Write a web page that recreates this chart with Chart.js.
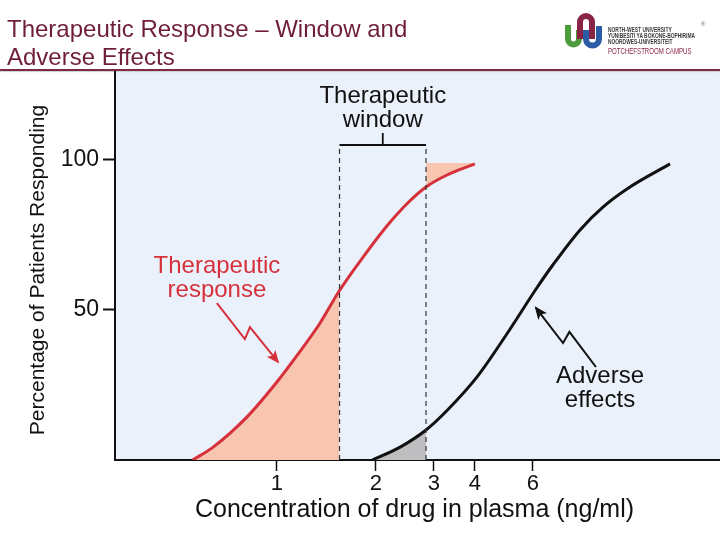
<!DOCTYPE html>
<html>
<head>
<meta charset="utf-8">
<script src="https://cdn.jsdelivr.net/npm/chart.js@4.4.1/dist/chart.umd.min.js"></script>
<style>
  html, body { margin: 0; padding: 0; background: #fff; }
  #wrap { position: relative; width: 720px; height: 540px; overflow: hidden; font-family: 'Liberation Sans', Arial, sans-serif; }
  #chart { position: absolute; left: 0; top: 0; }
  #title { position: absolute; left: 7px; top: 15px; font-size: 24px; line-height: 28px; color: #6e1d3b; }
  #rule { position: absolute; left: 0; top: 69px; width: 720px; height: 2px; background: #7b2b47; box-shadow: 0 1px 1px rgba(0,0,0,0.2); }
  #logo { position: absolute; left: 563px; top: 12px; width: 157px; height: 52px; }
  #logo svg { position: absolute; left: 0; top: 0; }
  #logo .txt { position: absolute; left: 45px; top: 15px; font-family: 'Liberation Sans', Arial, sans-serif; font-size: 7.5px; line-height: 6px; font-weight: bold; color: #3a3a3a; white-space: nowrap; transform: scaleX(0.65); transform-origin: 0 0; }
  #logo .camp { display: inline-block; margin-top: 2px; font-weight: normal; color: #8a2446; font-size: 9px; line-height: 9px; transform: scaleX(1.04); transform-origin: 0 0; }
  #logo .reg { position: absolute; left: 138px; top: 9px; font-size: 6px; color: #666; }
</style>
</head>
<body>
<div id="wrap">
  <canvas id="chart" width="720" height="540"></canvas>
  <div id="title">Therapeutic Response – Window and<br>Adverse Effects</div>
  <div id="rule"></div>
  <div id="logo">
    <svg width="42" height="40" viewBox="0 0 42 40">
      <path d="M5 13 V27 A5.5 5.5 0 0 0 16 27 V18" fill="none" stroke="#4c9b3d" stroke-width="6"/>
      <path d="M23 18 V27 A6.5 6.5 0 0 0 36 27 V14" fill="none" stroke="#2c5ba6" stroke-width="6"/>
      <path d="M17 27 V10 A6 6 0 0 1 29 10 V27" fill="none" stroke="#8a2446" stroke-width="6"/>
    </svg>
    <div class="txt">NORTH-WEST UNIVERSITY<br>YUNIBESITI YA BOKONE-BOPHIRIMA<br>NOORDWES-UNIVERSITEIT<br><span class="camp">POTCHEFSTROOM CAMPUS</span></div>
    <div class="reg">®</div>
  </div>
</div>
<script>
// curves (concentration ng/ml, % responding)
const responseConc = [0.555, 0.64, 0.81, 1.0, 1.15, 1.35, 1.55, 1.83, 2.16, 2.49, 2.84, 3.29, 4.0];
const responsePct  = [0, 4.3, 14.3, 26, 34.8, 45.5, 56.5, 67.7, 78, 85.5, 91, 95, 98.7];
const adverseConc  = [1.95, 2.37, 2.84, 3.29, 4.06, 5.0, 6.18, 6.9, 8.35, 9.8, 11.84, 15.67];
const adversePct   = [0, 4.3, 10, 16.5, 27.7, 42, 57.5, 65, 76.7, 84.3, 91, 98.7];

const windowRange = [1.55, 2.84];
const windowTop = 105;
const fillCap = 99;

const xTicks = [1, 2, 3, 4, 6];
const yTicks = [50, 100];

const RED = '#d6303b';
const SALMON = '#f8c5b1';
const GREY = '#bebec0';
const NONE = 'rgba(0,0,0,0)';

function pts(xs, ys) {
  return xs.map((x, i) => ({ x: x, y: ys[i] }));
}
const response = pts(responseConc, responsePct);
const adverse = pts(adverseConc, adversePct);

const lineOpts = { pointRadius: 0, cubicInterpolationMode: 'monotone', fill: false };
const fillOpts = { pointRadius: 0, cubicInterpolationMode: 'monotone', borderColor: NONE, borderWidth: 0 };

// fill only the segments inside a concentration range, same curve shape as the line
function shadeBetween(lo, hi, color) {
  return { backgroundColor: c => (c.p0.parsed.x >= lo && c.p1.parsed.x <= hi ? color : NONE) };
}

function arrow(ctx, sx, sy, path, color) {
  const p = path.map(a => [sx.getPixelForValue(a[0]), sy.getPixelForValue(a[1])]);
  ctx.save();
  ctx.strokeStyle = color;
  ctx.fillStyle = color;
  ctx.lineWidth = 2;
  ctx.beginPath();
  ctx.moveTo(p[0][0], p[0][1]);
  for (let i = 1; i < p.length; i++) ctx.lineTo(p[i][0], p[i][1]);
  ctx.stroke();
  // head
  const a = p[p.length - 2], b = p[p.length - 1];
  const ang = Math.atan2(b[1] - a[1], b[0] - a[0]);
  ctx.translate(b[0], b[1]);
  ctx.rotate(ang);
  ctx.beginPath();
  ctx.moveTo(2, 0);
  ctx.lineTo(-11, -5.5);
  ctx.lineTo(-8, 0);
  ctx.lineTo(-11, 5.5);
  ctx.closePath();
  ctx.fill();
  ctx.restore();
}

const decorations = {
  id: 'decorations',
  beforeDraw(chart) {
    const { ctx, chartArea: c } = chart;
    ctx.save();
    ctx.fillStyle = '#eaf1fa';
    ctx.fillRect(c.left, c.top, c.right - c.left, c.bottom - c.top);
    ctx.restore();
  },
  afterDraw(chart) {
    const { ctx, chartArea: c } = chart;
    const sx = chart.scales.x, sy = chart.scales.y;
    const x0 = sx.getPixelForValue(windowRange[0]);
    const x1 = sx.getPixelForValue(windowRange[1]);
    const yt = sy.getPixelForValue(windowTop);
    const yb = sy.getPixelForValue(0);

    ctx.save();
    // therapeutic window box
    ctx.strokeStyle = '#333';
    ctx.lineWidth = 1.2;
    ctx.setLineDash([5, 4]);
    ctx.beginPath();
    ctx.moveTo(x0, yb); ctx.lineTo(x0, yt);
    ctx.moveTo(x1, yb); ctx.lineTo(x1, yt);
    ctx.stroke();
    ctx.setLineDash([]);
    ctx.strokeStyle = '#111';
    ctx.lineWidth = 1.8;
    const xm = (x0 + x1) / 2;
    ctx.beginPath();
    ctx.moveTo(x0, yt); ctx.lineTo(x1, yt);
    ctx.moveTo(xm, yt); ctx.lineTo(xm, yt - 12);
    ctx.stroke();

    // labels
    ctx.font = '24px "Liberation Sans", Arial, sans-serif';
    ctx.textAlign = 'center';
    ctx.textBaseline = 'middle';
    ctx.fillStyle = '#111';
    ctx.fillText('Therapeutic', xm, sy.getPixelForValue(121.3));
    ctx.fillText('window', xm, sy.getPixelForValue(113.3));
    ctx.fillText('Adverse', sx.getPixelForValue(9.6), sy.getPixelForValue(28));
    ctx.fillText('effects', sx.getPixelForValue(9.6), sy.getPixelForValue(20));
    ctx.fillStyle = RED;
    ctx.fillText('Therapeutic', sx.getPixelForValue(0.657), sy.getPixelForValue(64.7));
    ctx.fillText('response', sx.getPixelForValue(0.657), sy.getPixelForValue(56.7));

    // zigzag arrows
    arrow(ctx, sx, sy, [[0.657, 52.3], [0.799, 40.3], [0.828, 44.3], [1.007, 32.7]], RED);
    arrow(ctx, sx, sy, [[9.33, 31], [7.75, 42.7], [7.41, 39], [6.13, 50.7]], '#111');

    // axis titles
    ctx.fillStyle = '#111';
    ctx.font = '25px "Liberation Sans", Arial, sans-serif';
    ctx.fillText('Concentration of drug in plasma (ng/ml)', (c.left + c.right) / 2 - 3, 510);
    ctx.translate(38, 270);
    ctx.rotate(-Math.PI / 2);
    ctx.font = '21px "Liberation Sans", Arial, sans-serif';
    ctx.fillText('Percentage of Patients Responding', 0, 0);
    ctx.restore();
  }
};

new Chart(document.getElementById('chart').getContext('2d'), {
  type: 'line',
  data: {
    datasets: [
      Object.assign({ label: 'Therapeutic response', data: response, borderColor: RED, borderWidth: 3 }, lineOpts),
      Object.assign({ label: 'Adverse effects', data: adverse, borderColor: '#111', borderWidth: 3 }, lineOpts),
      Object.assign({ data: response, backgroundColor: NONE, fill: 'origin', segment: shadeBetween(0, windowRange[0], SALMON) }, fillOpts),
      Object.assign({ data: response, backgroundColor: NONE, fill: { value: fillCap }, segment: shadeBetween(windowRange[1], Infinity, SALMON) }, fillOpts),
      Object.assign({ data: adverse, backgroundColor: NONE, fill: 'origin', segment: shadeBetween(0, windowRange[1], GREY) }, fillOpts)
    ]
  },
  options: {
    responsive: false,
    animation: false,
    layout: { padding: { top: 72, right: 0, left: 0, bottom: 0 } },
    plugins: { legend: { display: false }, tooltip: { enabled: false } },
    scales: {
      x: {
        type: 'logarithmic',
        bounds: 'data',
        min: 0.3219,
        max: 22.24,
        afterBuildTicks: s => { s.ticks = xTicks.map(v => ({ value: v })); },
        afterFit: s => { s.height = 80; },
        ticks: { color: '#111', font: { size: 22, family: 'Liberation Sans' }, padding: 0, callback: v => String(v), maxRotation: 0, autoSkip: false },
        grid: { drawOnChartArea: false, drawTicks: true, tickLength: 11, tickColor: '#111', tickWidth: 1.5 },
        border: { display: true, color: '#111', width: 2 }
      },
      y: {
        min: 0,
        max: 129.33,
        afterBuildTicks: s => { s.ticks = yTicks.map(v => ({ value: v })); },
        afterFit: s => { s.width = 115; },
        ticks: { color: '#111', font: { size: 23, family: 'Liberation Sans' }, padding: 4 },
        grid: { drawOnChartArea: false, drawTicks: true, tickLength: 12, tickColor: '#111', tickWidth: 2 },
        border: { display: true, color: '#111', width: 2 }
      }
    }
  },
  plugins: [decorations]
});
</script>
</body>
</html>
